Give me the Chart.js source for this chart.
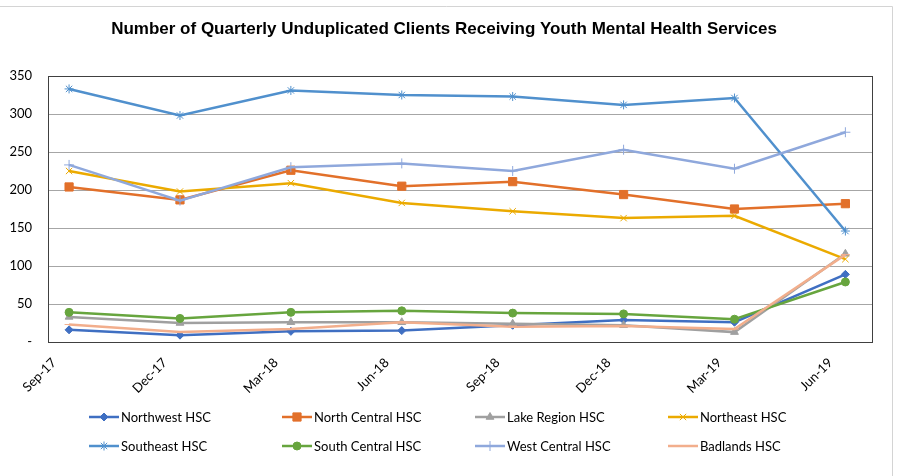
<!DOCTYPE html>
<html>
<head>
<meta charset="utf-8">
<script src="https://cdn.jsdelivr.net/npm/chart.js@4.4.0/dist/chart.umd.min.js"></script>
<style>
  html, body { margin: 0; padding: 0; background: #fff; }
  canvas { display: block; }
</style>
</head>
<body>
<canvas id="chart" width="903" height="476"></canvas>
<script>
const TITLE = "Number of Quarterly Unduplicated Clients Receiving Youth Mental Health Services";
const quarters = ["Sep-17", "Dec-17", "Mar-18", "Jun-18", "Sep-18", "Dec-18", "Mar-19", "Jun-19"];
const yTicks = [0, 50, 100, 150, 200, 250, 300, 350];

// values
const northwest    = [16, 9, 14, 15, 22, 29, 26, 89];
const northCentral = [204, 187, 226, 205, 211, 194, 175, 182];
const lakeRegion   = [33, 25, 26, 26, 24, 22, 13, 116];
const northeast    = [225, 198, 209, 183, 172, 163, 166, 109];
const southeast    = [333, 298, 331, 325, 323, 312, 321, 146];
const southCentral = [39, 31, 39, 41, 38, 37, 30, 79];
const westCentral  = [233, 186, 230, 235, 225, 253, 228, 276];
const badlands     = [23, 13, 17, 26, 20, 21, 17, 115];

const series = [
  { name: "Northwest HSC",     data: northwest,    color: "#3F6FC2", style: "rectRot",  r: 4 },
  { name: "North Central HSC", data: northCentral, color: "#E2702A", style: "rect",     r: 5.8 },
  { name: "Lake Region HSC",   data: lakeRegion,   color: "#A0A0A0", style: "triangle", r: 4.5 },
  { name: "Northeast HSC",     data: northeast,    color: "#EBAA00", style: "crossRot", r: 4.5 },
  { name: "Southeast HSC",     data: southeast,    color: "#5090CD", style: "star",     r: 4.5 },
  { name: "South Central HSC", data: southCentral, color: "#67A53E", style: "circle",   r: 4 },
  { name: "West Central HSC",  data: westCentral,  color: "#8FA8DC", style: "cross",    r: 5 },
  { name: "Badlands HSC",      data: badlands,     color: "#F2AE8C", style: "line",     r: 4.5 }
];

const FONT = "Lato, 'Open Sans', sans-serif";

// title, outer frame, plot border and the 2x4 legend grid
const decor = {
  id: "decor",
  beforeDraw(chart) {
    const c = chart.ctx;
    c.save();
    c.fillStyle = "#fff";
    c.fillRect(0, 0, chart.width, chart.height);
    c.strokeStyle = "#D4D4D4";
    c.lineWidth = 1;
    c.beginPath();
    c.moveTo(0, 6.5);
    c.lineTo(892.5, 6.5);
    c.lineTo(892.5, chart.height);
    c.stroke();
    c.restore();
  },
  beforeDatasetsDraw(chart) {
    const a = chart.chartArea, c = chart.ctx;
    c.save();
    c.strokeStyle = "#404040";
    c.lineWidth = 1;
    c.strokeRect(Math.round(a.left) + 0.5, Math.round(a.top) + 0.5,
      Math.round(a.right - a.left), Math.round(a.bottom - a.top));
    c.restore();
  },
  afterDraw(chart) {
    const c = chart.ctx;
    c.save();
    c.fillStyle = "#000";
    c.font = "bold 17px 'Liberation Sans', Arial, sans-serif";
    c.textAlign = "center";
    c.textBaseline = "middle";
    c.fillText(TITLE, 444, 29);

    c.font = "13px " + FONT;
    c.textAlign = "left";
    chart.data.datasets.forEach((ds, i) => {
      const x = 89 + (i % 4) * 193;
      const y = i < 4 ? 417 : 446;
      c.strokeStyle = ds.borderColor;
      c.lineWidth = 2.5;
      c.beginPath();
      c.moveTo(x, y);
      c.lineTo(x + 30, y);
      c.stroke();
      c.fillStyle = ds.borderColor;
      c.lineWidth = 1;
      Chart.helpers.drawPoint(c, {
        pointStyle: ds.pointStyle, radius: ds.pointRadius, rotation: 0, borderWidth: 1
      }, x + 15, y);
      c.fillStyle = "#000";
      c.fillText(ds.label, x + 32, y + 1);
    });
    c.restore();
  }
};

new Chart(document.getElementById("chart"), {
  type: "line",
  data: {
    datasets: series.map((s, i) => ({
      label: s.name,
      data: s.data.map((v, k) => ({ x: k, y: v })),
      borderColor: s.color,
      backgroundColor: s.color,
      pointBackgroundColor: s.color,
      pointBorderColor: s.color,
      borderWidth: 2.5,
      pointStyle: s.style,
      pointRadius: s.r,
      pointBorderWidth: 1,
      tension: 0,
      order: series.length - i
    }))
  },
  options: {
    responsive: false,
    animation: false,
    layout: { padding: { left: 0, right: 31, top: 76, bottom: 0 } },
    plugins: {
      legend: { display: false },
      title: { display: false },
      tooltip: { enabled: false }
    },
    scales: {
      x: {
        type: "linear",
        min: -0.19,
        max: 7.24,
        afterBuildTicks: (scale) => { scale.ticks = quarters.map((_, i) => ({ value: i })); },
        afterFit: (scale) => { scale.height = 134; },
        grid: { display: false, drawTicks: false },
        border: { display: false },
        ticks: {
          minRotation: 45,
          maxRotation: 45,
          autoSkip: false,
          labelOffset: -15,
          padding: 13,
          color: "#000",
          font: { family: FONT, size: 13 },
          callback: (v) => quarters[v]
        }
      },
      y: {
        min: 0,
        max: 350,
        afterBuildTicks: (scale) => { scale.ticks = yTicks.map(v => ({ value: v })); },
        afterFit: (scale) => { scale.width = 48; },
        grid: { color: "#A6A6A6", drawTicks: false, lineWidth: 1 },
        border: { display: false },
        ticks: {
          padding: 16,
          color: "#000",
          font: { family: FONT, size: 13 },
          callback: (v) => v === 0 ? "-" : v
        }
      }
    }
  },
  plugins: [decor]
});
</script>
</body>
</html>
